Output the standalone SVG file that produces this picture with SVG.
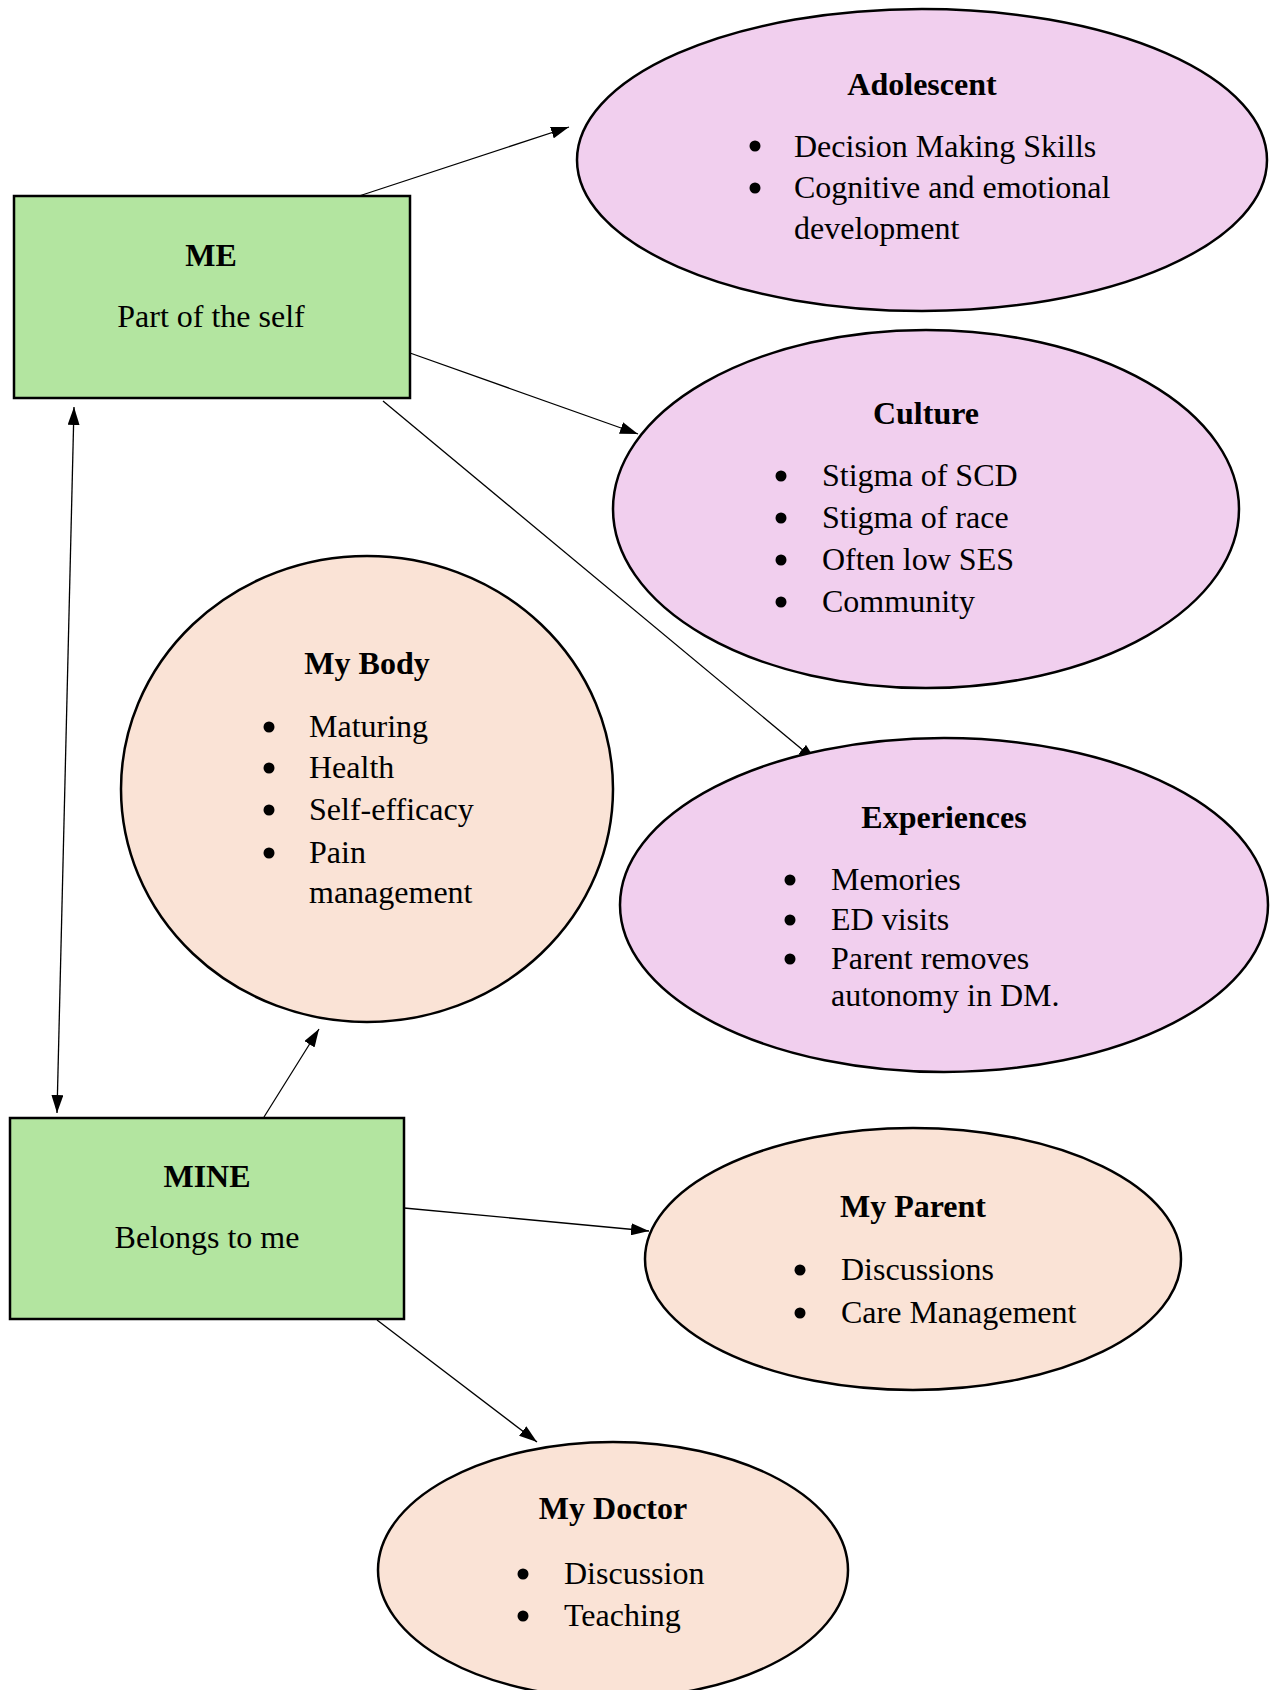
<svg xmlns="http://www.w3.org/2000/svg" width="1270" height="1690" viewBox="0 0 1270 1690">
<style>
.t{font-family:"Liberation Serif","Times New Roman",serif;font-size:32px;fill:#000}
.b{font-weight:bold;text-anchor:middle}
.c{text-anchor:middle}
.box{fill:#b3e5a0;stroke:#000;stroke-width:2.5}
.pink{fill:#f1cfee;stroke:#000;stroke-width:2.5}
.peach{fill:#fae3d6;stroke:#000;stroke-width:2.5}
.con{stroke:#000;stroke-width:1.3;fill:none}
.dot{fill:#000}
</style>
<defs>
<marker id="ah" viewBox="0 0 18 12" refX="18" refY="6" markerWidth="18" markerHeight="12" markerUnits="userSpaceOnUse" orient="auto-start-reverse">
<path d="M0,0 L18,6 L0,12 Z" fill="#000"/>
</marker>
</defs>
<rect width="1270" height="1690" fill="#fff"/>

<g id="connectors">
<line class="con" x1="359" y1="196" x2="569" y2="127" marker-end="url(#ah)"/>
<line class="con" x1="410" y1="353" x2="638" y2="434" marker-end="url(#ah)"/>
<line class="con" x1="383" y1="401" x2="816" y2="761" marker-end="url(#ah)"/>
<line class="con" x1="74" y1="407" x2="57" y2="1113" marker-start="url(#ah)" marker-end="url(#ah)"/>
<line class="con" x1="264" y1="1117" x2="319" y2="1029" marker-end="url(#ah)"/>
<line class="con" x1="404" y1="1208" x2="649" y2="1231" marker-end="url(#ah)"/>
<line class="con" x1="377" y1="1320" x2="537" y2="1442" marker-end="url(#ah)"/>
</g>

<g id="me">
<rect class="box" x="14" y="196" width="396" height="202"/>
<text class="t b" x="211" y="266">ME</text>
<text class="t c" x="211" y="327">Part of the self</text>
</g>

<g id="adolescent">
<ellipse class="pink" cx="922" cy="160" rx="345" ry="151"/>
<text class="t b" x="922" y="95">Adolescent</text>
<circle class="dot" cx="755" cy="146" r="5.5"/><text class="t" x="794" y="157">Decision Making Skills</text>
<circle class="dot" cx="755" cy="188" r="5.5"/><text class="t" x="794" y="198">Cognitive and emotional</text>
<text class="t" x="794" y="239">development</text>
</g>

<g id="culture">
<ellipse class="pink" cx="926" cy="509" rx="313" ry="179"/>
<text class="t b" x="926" y="424">Culture</text>
<circle class="dot" cx="781" cy="476" r="5.5"/><text class="t" x="822" y="486">Stigma of SCD</text>
<circle class="dot" cx="781" cy="518" r="5.5"/><text class="t" x="822" y="528">Stigma of race</text>
<circle class="dot" cx="781" cy="560" r="5.5"/><text class="t" x="822" y="570">Often low SES</text>
<circle class="dot" cx="781" cy="602" r="5.5"/><text class="t" x="822" y="612">Community</text>
</g>

<g id="mybody">
<ellipse class="peach" cx="367" cy="789" rx="246" ry="233"/>
<text class="t b" x="367" y="674">My Body</text>
<circle class="dot" cx="269" cy="727" r="5.5"/><text class="t" x="309" y="737">Maturing</text>
<circle class="dot" cx="269" cy="768" r="5.5"/><text class="t" x="309" y="778">Health</text>
<circle class="dot" cx="269" cy="810" r="5.5"/><text class="t" x="309" y="820">Self-efficacy</text>
<circle class="dot" cx="269" cy="853" r="5.5"/><text class="t" x="309" y="863">Pain</text>
<text class="t" x="309" y="903">management</text>
</g>

<g id="experiences">
<ellipse class="pink" cx="944" cy="905" rx="324" ry="167"/>
<text class="t b" x="944" y="828">Experiences</text>
<circle class="dot" cx="790" cy="880" r="5.5"/><text class="t" x="831" y="890">Memories</text>
<circle class="dot" cx="790" cy="920" r="5.5"/><text class="t" x="831" y="930">ED visits</text>
<circle class="dot" cx="790" cy="959" r="5.5"/><text class="t" x="831" y="969">Parent removes</text>
<text class="t" x="831" y="1006">autonomy in DM.</text>
</g>

<g id="mine">
<rect class="box" x="10" y="1118" width="394" height="201"/>
<text class="t b" x="207" y="1187">MINE</text>
<text class="t c" x="207" y="1248">Belongs to me</text>
</g>

<g id="myparent">
<ellipse class="peach" cx="913" cy="1259" rx="268" ry="131"/>
<text class="t b" x="913" y="1217">My Parent</text>
<circle class="dot" cx="800" cy="1270" r="5.5"/><text class="t" x="841" y="1280">Discussions</text>
<circle class="dot" cx="800" cy="1313" r="5.5"/><text class="t" x="841" y="1323">Care Management</text>
</g>

<g id="mydoctor">
<ellipse class="peach" cx="613" cy="1570" rx="235" ry="128"/>
<text class="t b" x="613" y="1519">My Doctor</text>
<circle class="dot" cx="523" cy="1574" r="5.5"/><text class="t" x="564" y="1584">Discussion</text>
<circle class="dot" cx="523" cy="1616" r="5.5"/><text class="t" x="564" y="1626">Teaching</text>
</g>
</svg>
